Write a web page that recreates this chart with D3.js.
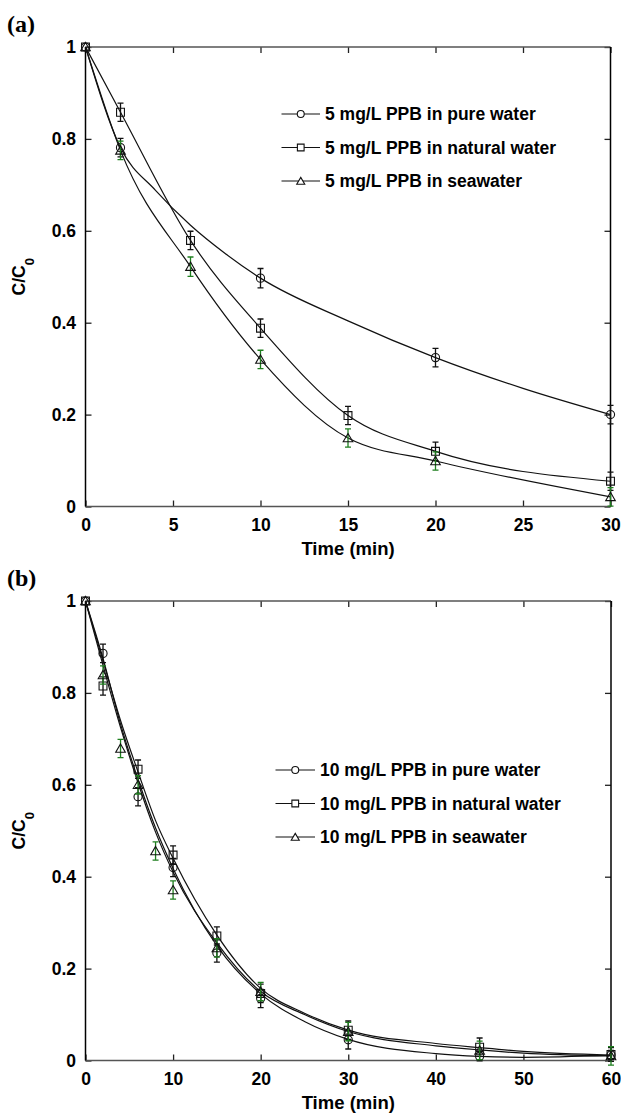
<!DOCTYPE html>
<html>
<head>
<meta charset="utf-8">
<script src="https://cdn.jsdelivr.net/npm/d3@7"></script>
<style>
  body { margin: 0; background: #fff; }
  svg { display: block; }
</style>
</head>
<body>
<script>
// ---- data: panel (a), 5 mg/L PPB ----
const tPureA = [0, 2, 10, 20, 30];
const cPureA = [1, 0.781, 0.497, 0.324, 0.2];
const ePureA = [0, 0.02, 0.021, 0.02, 0.02];

const tNatA = [0, 2, 6, 10, 15, 20, 30];
const cNatA = [1, 0.858, 0.579, 0.388, 0.198, 0.12, 0.055];
const eNatA = [0, 0.02, 0.02, 0.02, 0.02, 0.02, 0.02];

const tSeaA = [0, 2, 6, 10, 15, 20, 30];
const cSeaA = [1, 0.775, 0.522, 0.32, 0.149, 0.099, 0.021];
const eSeaA = [0, 0.02, 0.021, 0.02, 0.02, 0.02, 0.02];

// fitted curve of pure water in (a)
const tFitPureA = [0, 2, 4, 6, 8, 10, 15, 20, 25, 30];
const fitPureA = [1, 0.781, 0.688, 0.612, 0.55, 0.497, 0.404, 0.324, 0.257, 0.2];

// ---- data: panel (b), 10 mg/L PPB ----
const tPureB = [0, 2, 6, 10, 15, 20, 30, 45, 60];
const cPureB = [1, 0.886, 0.574, 0.42, 0.234, 0.135, 0.045, 0.009, 0.012];
const ePureB = [0, 0.02, 0.02, 0.02, 0.02, 0.02, 0.02, 0.01, 0.01];

const tNatB = [0, 2, 6, 10, 15, 20, 30, 45, 60];
const cNatB = [1, 0.815, 0.634, 0.447, 0.271, 0.146, 0.066, 0.029, 0.013];
const eNatB = [0, 0.02, 0.02, 0.02, 0.02, 0.02, 0.02, 0.02, 0.015];

const tSeaB = [0, 2, 4, 6, 8, 10, 15, 20, 30, 45, 60];
const cSeaB = [1, 0.839, 0.679, 0.6, 0.456, 0.371, 0.245, 0.15, 0.063, 0.022, 0.01];
const eSeaB = [0, 0.02, 0.02, 0.02, 0.02, 0.02, 0.02, 0.02, 0.02, 0.02, 0.02];

// fitted curves of panel (b)
const tFitB = [0, 2, 4, 6, 8, 10, 15, 20, 25, 30, 40, 45, 50, 60];
const fitPureB = [1, 0.875, 0.732, 0.612, 0.506, 0.418, 0.25, 0.145, 0.085, 0.046, 0.015, 0.009, 0.007, 0.011];
const fitNatB = [1, 0.87, 0.74, 0.628, 0.522, 0.44, 0.273, 0.157, 0.103, 0.066, 0.037, 0.028, 0.02, 0.012];
const fitSeaB = [1, 0.86, 0.725, 0.604, 0.497, 0.41, 0.256, 0.15, 0.1, 0.063, 0.032, 0.023, 0.016, 0.01];

const yTicks = [0, 0.2, 0.4, 0.6, 0.8, 1];
const xTicksA = [0, 5, 10, 15, 20, 25, 30];
const xTicksB = [0, 10, 20, 30, 40, 50, 60];

const namesA = ["5 mg/L PPB in pure water", "5 mg/L PPB in natural water", "5 mg/L PPB in seawater"];
const namesB = ["10 mg/L PPB in pure water", "10 mg/L PPB in natural water", "10 mg/L PPB in seawater"];

const FONT = "'Liberation Sans', Arial, sans-serif";
const GREEN = "#1f7f1f";

const svg = d3.select("body").append("svg").attr("width", 621).attr("height", 1117);

const zip = (t, c, e) => t.map((d, i) => ({ t: d, c: c[i], e: e[i] }));

const markerPath = (shape, big) => {
  const type = shape === "circle" ? d3.symbolCircle : shape === "square" ? d3.symbolSquare : d3.symbolTriangle;
  const size = shape === "circle" ? (big ? 52 : 38) : shape === "square" ? (big ? 62 : 45) : (big ? 40 : 28);
  return d3.symbol().type(type).size(size)();
};

const drawPanel = (p) => {
  const x = d3.scaleLinear().domain([0, p.xMax]).range([85.5, p.xRight]);
  const y = d3.scaleLinear().domain([0, 1]).range([p.top + 459.5, p.top]);
  const g = svg.append("g");

  // panel letter
  g.append("text")
    .attr("x", 7).attr("y", p.top - 15)
    .attr("font-family", "'Liberation Serif', 'Times New Roman', serif")
    .attr("font-weight", "bold").attr("font-size", 24)
    .text(p.letter);

  // axes (ticks inward)
  const axStyle = (sel) => {
    sel.select(".domain").remove();
    sel.selectAll(".tick line").attr("stroke", "#222").attr("stroke-width", 1.3);
    sel.selectAll("text").attr("font-family", FONT).attr("font-weight", "bold")
      .attr("font-size", 17.5).attr("fill", "#000");
  };
  g.append("g").attr("transform", `translate(0,${y(0)})`)
    .call(d3.axisBottom(x).tickValues(p.xTicks).tickSizeInner(-6).tickSizeOuter(0).tickPadding(12.5))
    .call(axStyle);
  g.append("g").attr("transform", `translate(0,${y(1)})`)
    .call(d3.axisTop(x).tickValues(p.xTicks).tickSizeInner(-6).tickSizeOuter(0).tickFormat(""))
    .call(axStyle);
  g.append("g").attr("transform", `translate(${x(0)},0)`)
    .call(d3.axisLeft(y).tickValues(yTicks).tickSizeInner(-6).tickSizeOuter(0).tickPadding(9.5).tickFormat(d3.format("~g")))
    .call(axStyle);
  g.append("g").attr("transform", `translate(${x(p.xMax)},0)`)
    .call(d3.axisRight(y).tickValues(yTicks).tickSizeInner(-6).tickSizeOuter(0).tickFormat(""))
    .call(axStyle);

  // frame
  const frame = g.append("g").attr("fill", "none").attr("stroke-width", 1.5);
  frame.append("line").attr("x1", x(0)).attr("x2", x(p.xMax)).attr("y1", y(0)).attr("y2", y(0)).attr("stroke", "#555");
  frame.append("line").attr("x1", x(0)).attr("x2", x(p.xMax)).attr("y1", y(1)).attr("y2", y(1)).attr("stroke", "#555");
  frame.append("line").attr("x1", x(0)).attr("x2", x(0)).attr("y1", y(0)).attr("y2", y(1)).attr("stroke", "#000");
  frame.append("line").attr("x1", x(p.xMax)).attr("x2", x(p.xMax)).attr("y1", y(0)).attr("y2", y(1)).attr("stroke", "#000");

  // axis titles
  g.append("text")
    .attr("x", (x(0) + x(p.xMax)) / 2).attr("y", y(0) + 48)
    .attr("text-anchor", "middle")
    .attr("font-family", FONT).attr("font-weight", "bold").attr("font-size", 18.5)
    .text("Time (min)");
  const yl = g.append("text")
    .attr("transform", `translate(25,${(y(0) + y(1)) / 2}) rotate(-90)`)
    .attr("text-anchor", "middle")
    .attr("font-family", FONT).attr("font-weight", "bold").attr("font-size", 17.5);
  yl.append("tspan").text("C/C");
  yl.append("tspan").attr("font-size", 13).attr("dy", 9).text("0");

  // curves
  const line = d3.line().x((d) => x(d[0])).y((d) => y(d[1])).curve(d3.curveMonotoneX);
  g.append("g").attr("fill", "none").attr("stroke", "#111").attr("stroke-width", 1.2)
    .selectAll("path").data(p.curves).join("path")
    .attr("d", (d) => line(d));

  // error bars and markers
  p.series.forEach((s) => {
    const pts = zip(s.t, s.c, s.e).filter((d) => d.e > 0);
    const eb = g.append("g").attr("stroke", s.err).attr("stroke-width", 1.3).attr("fill", "none");
    eb.selectAll("path").data(pts).join("path")
      .attr("d", (d) => {
        const xx = x(d.t), y1 = y(d.c + d.e), y2 = y(d.c - d.e);
        return `M${xx - 3},${y1}H${xx + 3}M${xx},${y1}V${y2}M${xx - 3},${y2}H${xx + 3}`;
      });
    g.append("g").attr("fill", "none").attr("stroke", "#111").attr("stroke-width", 1.1)
      .selectAll("path").data(zip(s.t, s.c, s.e)).join("path")
      .attr("transform", (d) => `translate(${x(d.t)},${y(d.c) + (s.shape === "triangle" ? 1 : 0)})`)
      .attr("d", markerPath(s.shape, true));
  });

  // legend
  const lg = g.append("g");
  p.names.forEach((name, i) => {
    const ly = p.legend.y0 + i * 33.5;
    lg.append("line").attr("x1", p.legend.x0).attr("x2", p.legend.x1)
      .attr("y1", ly).attr("y2", ly).attr("stroke", "#111").attr("stroke-width", 1.2);
    lg.append("path")
      .attr("transform", `translate(${(p.legend.x0 + p.legend.x1) / 2},${ly + (p.series[i].shape === "triangle" ? 1 : 0)})`)
      .attr("d", markerPath(p.series[i].shape, false))
      .attr("fill", "#fff").attr("stroke", "#111").attr("stroke-width", 1.1);
    lg.append("text")
      .attr("x", p.legend.x1 + 5).attr("y", ly).attr("dy", "0.36em")
      .attr("font-family", FONT).attr("font-weight", "bold").attr("font-size", 17.5)
      .text(name);
  });
};

drawPanel({
  letter: "(a)", top: 47, xMax: 30, xRight: 610.5, xTicks: xTicksA, names: namesA,
  legend: { x0: 281.5, x1: 320, y0: 114 },
  series: [
    { t: tPureA, c: cPureA, e: ePureA, shape: "circle", err: "#111" },
    { t: tNatA, c: cNatA, e: eNatA, shape: "square", err: "#111" },
    { t: tSeaA, c: cSeaA, e: eSeaA, shape: "triangle", err: GREEN },
  ],
  curves: [
    tFitPureA.map((t, i) => [t, fitPureA[i]]),
    tNatA.map((t, i) => [t, cNatA[i]]),
    tSeaA.map((t, i) => [t, cSeaA[i]]),
  ],
});

drawPanel({
  letter: "(b)", top: 601, xMax: 60, xRight: 611, xTicks: xTicksB, names: namesB,
  legend: { x0: 275.5, x1: 315, y0: 770 },
  series: [
    { t: tPureB, c: cPureB, e: ePureB, shape: "circle", err: "#111" },
    { t: tNatB, c: cNatB, e: eNatB, shape: "square", err: "#111" },
    { t: tSeaB, c: cSeaB, e: eSeaB, shape: "triangle", err: GREEN },
  ],
  curves: [
    tFitB.map((t, i) => [t, fitPureB[i]]),
    tFitB.map((t, i) => [t, fitNatB[i]]),
    tFitB.map((t, i) => [t, fitSeaB[i]]),
  ],
});
</script>
</body>
</html>
